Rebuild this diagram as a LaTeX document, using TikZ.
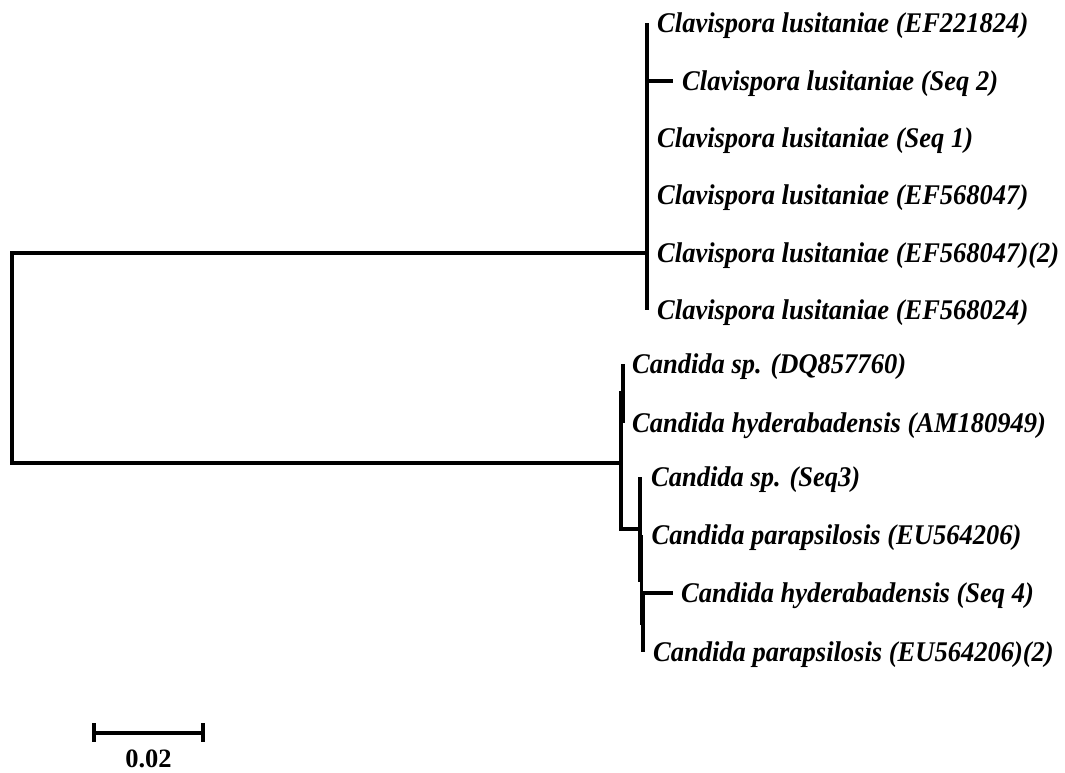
\documentclass[tikz,border=0pt]{standalone}
\usepackage{fontspec}
\setmainfont{Liberation Serif}
\newfontfamily\taxfont{Liberation Serif}[FakeStretch=0.93]
\usetikzlibrary{positioning}

\tikzset{
  limb/.style={draw=black, line width=3.4pt},
  taxon/.style={inner sep=0pt, text height=18.6pt, text depth=0pt,
    font=\taxfont\fontsize{28.5}{32}\selectfont\bfseries\itshape},
  barlabel/.style={inner sep=0pt, text height=18pt, text depth=0pt,
    font=\fontsize{26.5}{30}\selectfont\bfseries}
}

\begin{document}
\begin{tikzpicture}[x=1pt, y=-1pt]
  \useasboundingbox (0,0) rectangle (1065,773);
  % internal nodes
  \coordinate (R) at (12,358);
  \coordinate (K) at (647,253);
  \coordinate (A) at (621,463);
  \coordinate (B) at (623,393);
  \coordinate (C) at (640,529);
  \coordinate (E) at (641.5,580);
  \coordinate (F) at (643,623);
  % tips
  \coordinate (c1) at (647,23);
  \coordinate (c2) at (673,81);
  \coordinate (c3) at (647,138);
  \coordinate (c4) at (647,195);
  \coordinate (c5) at (647,253);
  \coordinate (c6) at (647,310);
  \coordinate (d1) at (623,364);
  \coordinate (d2) at (623,423);
  \coordinate (d3) at (640,477);
  \coordinate (d4) at (641.5,535);
  \coordinate (d5) at (673,593);
  \coordinate (d6) at (643,652);
  % branches
  \foreach \p/\c in {R/K, R/A, K/c1, K/c2, K/c3, K/c4, K/c5, K/c6,
                     A/B, A/C, B/d1, B/d2, C/d3, C/E, E/d4, E/F, F/d5, F/d6}
    \draw[limb] (\p) |- (\c);
  % taxa
  \node[taxon, right=10pt of c1] (l1) {Clavispora lusitaniae (EF221824)};
  \node[taxon, right=9pt of c2] (l2) {Clavispora lusitaniae (Seq 2)};
  \node[taxon, right=10pt of c3] (l3) {Clavispora lusitaniae (Seq 1)};
  \node[taxon, right=10pt of c4] (l4) {Clavispora lusitaniae (EF568047)};
  \node[taxon, right=10pt of c5] (l5) {Clavispora lusitaniae (EF568047)(2)};
  \node[taxon, right=10pt of c6] (l6) {Clavispora lusitaniae (EF568024)};
  \node[taxon, right=9pt of d1] (l7) {Candida sp. (DQ857760)};
  \node[taxon, right=9pt of d2] (l8) {Candida hyderabadensis (AM180949)};
  \node[taxon, right=11pt of d3] (l9) {Candida sp. (Seq3)};
  \node[taxon, right=10pt of d4] (l10) {Candida parapsilosis (EU564206)};
  \node[taxon, right=8pt of d5] (l11) {Candida hyderabadensis (Seq 4)};
  \node[taxon, right=10pt of d6] (l12) {Candida parapsilosis (EU564206)(2)};
  % scale bar
  \coordinate (s0) at (94,733);
  \coordinate (s1) at (203,733);
  \draw[limb] (s0) -- (s1);
  \draw[limb] (s0) ++(0,-10) -- ++(0,19);
  \draw[limb] (s1) ++(0,-10) -- ++(0,19);
  \node[barlabel] (sl) at (148.5,758) {0.02};
\end{tikzpicture}
\end{document}
